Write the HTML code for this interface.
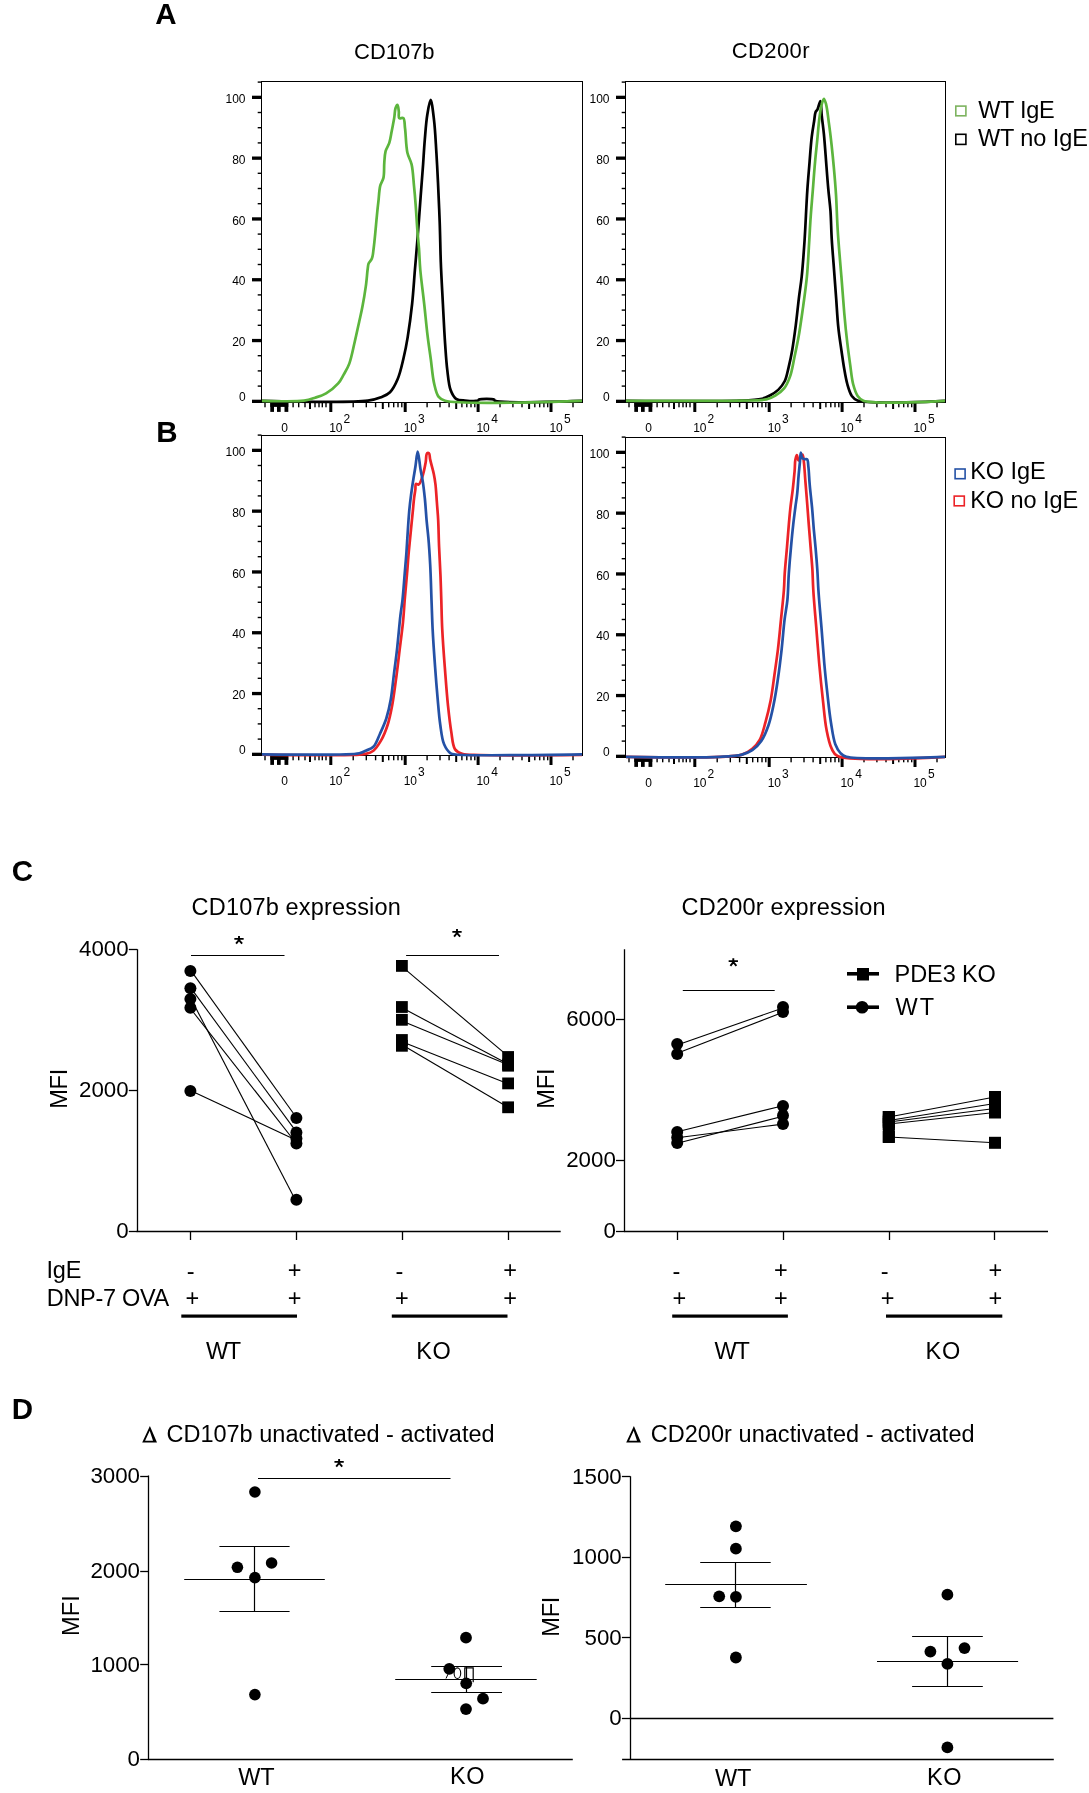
<!DOCTYPE html>
<html><head><meta charset="utf-8"><style>
html,body{margin:0;padding:0;background:#fff;}
svg{display:block;font-family:"Liberation Sans",sans-serif;will-change:transform;}
</style></head><body>
<svg width="1089" height="1793" viewBox="0 0 1089 1793">
<rect width="1089" height="1793" fill="#fff"/>
<rect x="261.5" y="81.5" width="321" height="321" fill="none" stroke="#000" stroke-width="1"/>
<rect x="252" y="399.7" width="9.5" height="3.3" fill="#000"/>
<rect x="257.7" y="385.4" width="3.8" height="1.4" fill="#000"/>
<rect x="257.7" y="370.2" width="3.8" height="1.4" fill="#000"/>
<rect x="257.7" y="355" width="3.8" height="1.4" fill="#000"/>
<rect x="252" y="338.9" width="9.5" height="3.3" fill="#000"/>
<rect x="257.7" y="324.6" width="3.8" height="1.4" fill="#000"/>
<rect x="257.7" y="309.4" width="3.8" height="1.4" fill="#000"/>
<rect x="257.7" y="294.2" width="3.8" height="1.4" fill="#000"/>
<rect x="252" y="278.1" width="9.5" height="3.3" fill="#000"/>
<rect x="257.7" y="263.8" width="3.8" height="1.4" fill="#000"/>
<rect x="257.7" y="248.6" width="3.8" height="1.4" fill="#000"/>
<rect x="257.7" y="233.4" width="3.8" height="1.4" fill="#000"/>
<rect x="252" y="217.3" width="9.5" height="3.3" fill="#000"/>
<rect x="257.7" y="203" width="3.8" height="1.4" fill="#000"/>
<rect x="257.7" y="187.8" width="3.8" height="1.4" fill="#000"/>
<rect x="257.7" y="172.6" width="3.8" height="1.4" fill="#000"/>
<rect x="252" y="156.5" width="9.5" height="3.3" fill="#000"/>
<rect x="257.7" y="142.2" width="3.8" height="1.4" fill="#000"/>
<rect x="257.7" y="127" width="3.8" height="1.4" fill="#000"/>
<rect x="257.7" y="111.8" width="3.8" height="1.4" fill="#000"/>
<rect x="252" y="95.7" width="9.5" height="3.3" fill="#000"/>
<rect x="257.7" y="81.4" width="3.8" height="1.4" fill="#000"/>
<text x="238.9" y="400.9" font-size="12" font-weight="normal">0</text>
<text x="232.2" y="346.2" font-size="12" font-weight="normal">20</text>
<text x="232.2" y="285.4" font-size="12" font-weight="normal">40</text>
<text x="232.2" y="224.6" font-size="12" font-weight="normal">60</text>
<text x="232.2" y="163.8" font-size="12" font-weight="normal">80</text>
<text x="225.5" y="103" font-size="12" font-weight="normal">100</text>
<rect x="264.3" y="402.5" width="1.4" height="4.8" fill="#000"/>
<rect x="270.3" y="402.5" width="18" height="4.4" fill="#000"/>
<rect x="270.3" y="402.5" width="3.7" height="9.4" fill="#000"/>
<rect x="277" y="402.5" width="3.7" height="9.4" fill="#000"/>
<rect x="284.5" y="402.5" width="3.8" height="9.4" fill="#000"/>
<rect x="292.4" y="402.5" width="1.4" height="4.8" fill="#000"/>
<rect x="298" y="402.5" width="1.4" height="4.8" fill="#000"/>
<rect x="304.3" y="402.5" width="1.4" height="4.8" fill="#000"/>
<rect x="309" y="402.5" width="2" height="6.5" fill="#000"/>
<rect x="314.3" y="402.5" width="1.4" height="4.8" fill="#000"/>
<rect x="318.3" y="402.5" width="1.4" height="4.8" fill="#000"/>
<rect x="321.6" y="402.5" width="1.4" height="4.8" fill="#000"/>
<rect x="325.3" y="402.5" width="1.4" height="4.8" fill="#000"/>
<rect x="329.3" y="402.5" width="3" height="9.5" fill="#000"/>
<rect x="352.5" y="402.5" width="1.4" height="4.8" fill="#000"/>
<rect x="365.6" y="402.5" width="1.4" height="4.8" fill="#000"/>
<rect x="374.9" y="402.5" width="1.4" height="4.8" fill="#000"/>
<rect x="381.8" y="402.5" width="2" height="6.5" fill="#000"/>
<rect x="388" y="402.5" width="1.4" height="4.8" fill="#000"/>
<rect x="393" y="402.5" width="1.4" height="4.8" fill="#000"/>
<rect x="397.3" y="402.5" width="1.4" height="4.8" fill="#000"/>
<rect x="401.1" y="402.5" width="1.4" height="4.8" fill="#000"/>
<rect x="403.7" y="402.5" width="3" height="9.5" fill="#000"/>
<rect x="426.4" y="402.5" width="1.4" height="4.8" fill="#000"/>
<rect x="439.3" y="402.5" width="1.4" height="4.8" fill="#000"/>
<rect x="448.4" y="402.5" width="1.4" height="4.8" fill="#000"/>
<rect x="455.2" y="402.5" width="2" height="6.5" fill="#000"/>
<rect x="461.2" y="402.5" width="1.4" height="4.8" fill="#000"/>
<rect x="466.1" y="402.5" width="1.4" height="4.8" fill="#000"/>
<rect x="470.3" y="402.5" width="1.4" height="4.8" fill="#000"/>
<rect x="474.1" y="402.5" width="1.4" height="4.8" fill="#000"/>
<rect x="476.6" y="402.5" width="3" height="9.5" fill="#000"/>
<rect x="499.3" y="402.5" width="1.4" height="4.8" fill="#000"/>
<rect x="512.2" y="402.5" width="1.4" height="4.8" fill="#000"/>
<rect x="521.3" y="402.5" width="1.4" height="4.8" fill="#000"/>
<rect x="528.1" y="402.5" width="2" height="6.5" fill="#000"/>
<rect x="534.1" y="402.5" width="1.4" height="4.8" fill="#000"/>
<rect x="539" y="402.5" width="1.4" height="4.8" fill="#000"/>
<rect x="543.2" y="402.5" width="1.4" height="4.8" fill="#000"/>
<rect x="547" y="402.5" width="1.4" height="4.8" fill="#000"/>
<rect x="549.5" y="402.5" width="3" height="9.5" fill="#000"/>
<rect x="572.3" y="402.5" width="1.4" height="4.8" fill="#000"/>
<text x="281.3" y="432.2" font-size="12" font-weight="normal">0</text>
<text x="329.3" y="432.2" font-size="12" font-weight="normal" textLength="13.2" lengthAdjust="spacing" >10</text>
<text x="343.6" y="423.3" font-size="12" font-weight="normal" >2</text>
<text x="403.7" y="432.2" font-size="12" font-weight="normal" textLength="13.2" lengthAdjust="spacing" >10</text>
<text x="418.1" y="423.3" font-size="12" font-weight="normal" >3</text>
<text x="476.6" y="432.2" font-size="12" font-weight="normal" textLength="13.2" lengthAdjust="spacing" >10</text>
<text x="491.2" y="423.3" font-size="12" font-weight="normal" >4</text>
<text x="549.5" y="432.2" font-size="12" font-weight="normal" textLength="13.2" lengthAdjust="spacing" >10</text>
<text x="563.9" y="423.3" font-size="12" font-weight="normal" >5</text>
<rect x="625.5" y="81.5" width="320" height="321" fill="none" stroke="#000" stroke-width="1"/>
<rect x="616" y="399.7" width="9.5" height="3.3" fill="#000"/>
<rect x="621.7" y="385.4" width="3.8" height="1.4" fill="#000"/>
<rect x="621.7" y="370.2" width="3.8" height="1.4" fill="#000"/>
<rect x="621.7" y="355" width="3.8" height="1.4" fill="#000"/>
<rect x="616" y="338.9" width="9.5" height="3.3" fill="#000"/>
<rect x="621.7" y="324.6" width="3.8" height="1.4" fill="#000"/>
<rect x="621.7" y="309.4" width="3.8" height="1.4" fill="#000"/>
<rect x="621.7" y="294.2" width="3.8" height="1.4" fill="#000"/>
<rect x="616" y="278.1" width="9.5" height="3.3" fill="#000"/>
<rect x="621.7" y="263.8" width="3.8" height="1.4" fill="#000"/>
<rect x="621.7" y="248.6" width="3.8" height="1.4" fill="#000"/>
<rect x="621.7" y="233.4" width="3.8" height="1.4" fill="#000"/>
<rect x="616" y="217.3" width="9.5" height="3.3" fill="#000"/>
<rect x="621.7" y="203" width="3.8" height="1.4" fill="#000"/>
<rect x="621.7" y="187.8" width="3.8" height="1.4" fill="#000"/>
<rect x="621.7" y="172.6" width="3.8" height="1.4" fill="#000"/>
<rect x="616" y="156.5" width="9.5" height="3.3" fill="#000"/>
<rect x="621.7" y="142.2" width="3.8" height="1.4" fill="#000"/>
<rect x="621.7" y="127" width="3.8" height="1.4" fill="#000"/>
<rect x="621.7" y="111.8" width="3.8" height="1.4" fill="#000"/>
<rect x="616" y="95.7" width="9.5" height="3.3" fill="#000"/>
<rect x="621.7" y="81.4" width="3.8" height="1.4" fill="#000"/>
<text x="602.9" y="400.9" font-size="12" font-weight="normal">0</text>
<text x="596.2" y="346.2" font-size="12" font-weight="normal">20</text>
<text x="596.2" y="285.4" font-size="12" font-weight="normal">40</text>
<text x="596.2" y="224.6" font-size="12" font-weight="normal">60</text>
<text x="596.2" y="163.8" font-size="12" font-weight="normal">80</text>
<text x="589.5" y="103" font-size="12" font-weight="normal">100</text>
<rect x="628.3" y="402.5" width="1.4" height="4.8" fill="#000"/>
<rect x="634.3" y="402.5" width="18" height="4.4" fill="#000"/>
<rect x="634.3" y="402.5" width="3.7" height="9.4" fill="#000"/>
<rect x="641" y="402.5" width="3.7" height="9.4" fill="#000"/>
<rect x="648.5" y="402.5" width="3.8" height="9.4" fill="#000"/>
<rect x="656.4" y="402.5" width="1.4" height="4.8" fill="#000"/>
<rect x="662" y="402.5" width="1.4" height="4.8" fill="#000"/>
<rect x="668.3" y="402.5" width="1.4" height="4.8" fill="#000"/>
<rect x="673" y="402.5" width="2" height="6.5" fill="#000"/>
<rect x="678.3" y="402.5" width="1.4" height="4.8" fill="#000"/>
<rect x="682.3" y="402.5" width="1.4" height="4.8" fill="#000"/>
<rect x="685.6" y="402.5" width="1.4" height="4.8" fill="#000"/>
<rect x="689.3" y="402.5" width="1.4" height="4.8" fill="#000"/>
<rect x="693.3" y="402.5" width="3" height="9.5" fill="#000"/>
<rect x="716.5" y="402.5" width="1.4" height="4.8" fill="#000"/>
<rect x="729.6" y="402.5" width="1.4" height="4.8" fill="#000"/>
<rect x="738.9" y="402.5" width="1.4" height="4.8" fill="#000"/>
<rect x="745.8" y="402.5" width="2" height="6.5" fill="#000"/>
<rect x="752" y="402.5" width="1.4" height="4.8" fill="#000"/>
<rect x="757" y="402.5" width="1.4" height="4.8" fill="#000"/>
<rect x="761.3" y="402.5" width="1.4" height="4.8" fill="#000"/>
<rect x="765.1" y="402.5" width="1.4" height="4.8" fill="#000"/>
<rect x="767.7" y="402.5" width="3" height="9.5" fill="#000"/>
<rect x="790.4" y="402.5" width="1.4" height="4.8" fill="#000"/>
<rect x="803.3" y="402.5" width="1.4" height="4.8" fill="#000"/>
<rect x="812.4" y="402.5" width="1.4" height="4.8" fill="#000"/>
<rect x="819.2" y="402.5" width="2" height="6.5" fill="#000"/>
<rect x="825.2" y="402.5" width="1.4" height="4.8" fill="#000"/>
<rect x="830.1" y="402.5" width="1.4" height="4.8" fill="#000"/>
<rect x="834.3" y="402.5" width="1.4" height="4.8" fill="#000"/>
<rect x="838.1" y="402.5" width="1.4" height="4.8" fill="#000"/>
<rect x="840.6" y="402.5" width="3" height="9.5" fill="#000"/>
<rect x="863.3" y="402.5" width="1.4" height="4.8" fill="#000"/>
<rect x="876.2" y="402.5" width="1.4" height="4.8" fill="#000"/>
<rect x="885.3" y="402.5" width="1.4" height="4.8" fill="#000"/>
<rect x="892.1" y="402.5" width="2" height="6.5" fill="#000"/>
<rect x="898.1" y="402.5" width="1.4" height="4.8" fill="#000"/>
<rect x="903" y="402.5" width="1.4" height="4.8" fill="#000"/>
<rect x="907.2" y="402.5" width="1.4" height="4.8" fill="#000"/>
<rect x="911" y="402.5" width="1.4" height="4.8" fill="#000"/>
<rect x="913.5" y="402.5" width="3" height="9.5" fill="#000"/>
<rect x="936.3" y="402.5" width="1.4" height="4.8" fill="#000"/>
<text x="645.3" y="432.2" font-size="12" font-weight="normal">0</text>
<text x="693.3" y="432.2" font-size="12" font-weight="normal" textLength="13.2" lengthAdjust="spacing" >10</text>
<text x="707.6" y="423.3" font-size="12" font-weight="normal" >2</text>
<text x="767.7" y="432.2" font-size="12" font-weight="normal" textLength="13.2" lengthAdjust="spacing" >10</text>
<text x="782.1" y="423.3" font-size="12" font-weight="normal" >3</text>
<text x="840.6" y="432.2" font-size="12" font-weight="normal" textLength="13.2" lengthAdjust="spacing" >10</text>
<text x="855.2" y="423.3" font-size="12" font-weight="normal" >4</text>
<text x="913.5" y="432.2" font-size="12" font-weight="normal" textLength="13.2" lengthAdjust="spacing" >10</text>
<text x="927.9" y="423.3" font-size="12" font-weight="normal" >5</text>
<rect x="261.5" y="435.5" width="321" height="320" fill="none" stroke="#000" stroke-width="1"/>
<rect x="252" y="752.7" width="9.5" height="3.3" fill="#000"/>
<rect x="257.7" y="738.4" width="3.8" height="1.4" fill="#000"/>
<rect x="257.7" y="723.2" width="3.8" height="1.4" fill="#000"/>
<rect x="257.7" y="708" width="3.8" height="1.4" fill="#000"/>
<rect x="252" y="691.9" width="9.5" height="3.3" fill="#000"/>
<rect x="257.7" y="677.6" width="3.8" height="1.4" fill="#000"/>
<rect x="257.7" y="662.4" width="3.8" height="1.4" fill="#000"/>
<rect x="257.7" y="647.2" width="3.8" height="1.4" fill="#000"/>
<rect x="252" y="631.1" width="9.5" height="3.3" fill="#000"/>
<rect x="257.7" y="616.8" width="3.8" height="1.4" fill="#000"/>
<rect x="257.7" y="601.6" width="3.8" height="1.4" fill="#000"/>
<rect x="257.7" y="586.4" width="3.8" height="1.4" fill="#000"/>
<rect x="252" y="570.3" width="9.5" height="3.3" fill="#000"/>
<rect x="257.7" y="556" width="3.8" height="1.4" fill="#000"/>
<rect x="257.7" y="540.8" width="3.8" height="1.4" fill="#000"/>
<rect x="257.7" y="525.6" width="3.8" height="1.4" fill="#000"/>
<rect x="252" y="509.5" width="9.5" height="3.3" fill="#000"/>
<rect x="257.7" y="495.2" width="3.8" height="1.4" fill="#000"/>
<rect x="257.7" y="480" width="3.8" height="1.4" fill="#000"/>
<rect x="257.7" y="464.8" width="3.8" height="1.4" fill="#000"/>
<rect x="252" y="448.7" width="9.5" height="3.3" fill="#000"/>
<rect x="257.7" y="434.4" width="3.8" height="1.4" fill="#000"/>
<text x="238.9" y="753.9" font-size="12" font-weight="normal">0</text>
<text x="232.2" y="699.2" font-size="12" font-weight="normal">20</text>
<text x="232.2" y="638.4" font-size="12" font-weight="normal">40</text>
<text x="232.2" y="577.6" font-size="12" font-weight="normal">60</text>
<text x="232.2" y="516.8" font-size="12" font-weight="normal">80</text>
<text x="225.5" y="456" font-size="12" font-weight="normal">100</text>
<rect x="264.3" y="755.5" width="1.4" height="4.8" fill="#000"/>
<rect x="270.3" y="755.5" width="18" height="4.4" fill="#000"/>
<rect x="270.3" y="755.5" width="3.7" height="9.4" fill="#000"/>
<rect x="277" y="755.5" width="3.7" height="9.4" fill="#000"/>
<rect x="284.5" y="755.5" width="3.8" height="9.4" fill="#000"/>
<rect x="292.4" y="755.5" width="1.4" height="4.8" fill="#000"/>
<rect x="298" y="755.5" width="1.4" height="4.8" fill="#000"/>
<rect x="304.3" y="755.5" width="1.4" height="4.8" fill="#000"/>
<rect x="309" y="755.5" width="2" height="6.5" fill="#000"/>
<rect x="314.3" y="755.5" width="1.4" height="4.8" fill="#000"/>
<rect x="318.3" y="755.5" width="1.4" height="4.8" fill="#000"/>
<rect x="321.6" y="755.5" width="1.4" height="4.8" fill="#000"/>
<rect x="325.3" y="755.5" width="1.4" height="4.8" fill="#000"/>
<rect x="329.3" y="755.5" width="3" height="9.5" fill="#000"/>
<rect x="352.5" y="755.5" width="1.4" height="4.8" fill="#000"/>
<rect x="365.6" y="755.5" width="1.4" height="4.8" fill="#000"/>
<rect x="374.9" y="755.5" width="1.4" height="4.8" fill="#000"/>
<rect x="381.8" y="755.5" width="2" height="6.5" fill="#000"/>
<rect x="388" y="755.5" width="1.4" height="4.8" fill="#000"/>
<rect x="393" y="755.5" width="1.4" height="4.8" fill="#000"/>
<rect x="397.3" y="755.5" width="1.4" height="4.8" fill="#000"/>
<rect x="401.1" y="755.5" width="1.4" height="4.8" fill="#000"/>
<rect x="403.7" y="755.5" width="3" height="9.5" fill="#000"/>
<rect x="426.4" y="755.5" width="1.4" height="4.8" fill="#000"/>
<rect x="439.3" y="755.5" width="1.4" height="4.8" fill="#000"/>
<rect x="448.4" y="755.5" width="1.4" height="4.8" fill="#000"/>
<rect x="455.2" y="755.5" width="2" height="6.5" fill="#000"/>
<rect x="461.2" y="755.5" width="1.4" height="4.8" fill="#000"/>
<rect x="466.1" y="755.5" width="1.4" height="4.8" fill="#000"/>
<rect x="470.3" y="755.5" width="1.4" height="4.8" fill="#000"/>
<rect x="474.1" y="755.5" width="1.4" height="4.8" fill="#000"/>
<rect x="476.6" y="755.5" width="3" height="9.5" fill="#000"/>
<rect x="499.3" y="755.5" width="1.4" height="4.8" fill="#000"/>
<rect x="512.2" y="755.5" width="1.4" height="4.8" fill="#000"/>
<rect x="521.3" y="755.5" width="1.4" height="4.8" fill="#000"/>
<rect x="528.1" y="755.5" width="2" height="6.5" fill="#000"/>
<rect x="534.1" y="755.5" width="1.4" height="4.8" fill="#000"/>
<rect x="539" y="755.5" width="1.4" height="4.8" fill="#000"/>
<rect x="543.2" y="755.5" width="1.4" height="4.8" fill="#000"/>
<rect x="547" y="755.5" width="1.4" height="4.8" fill="#000"/>
<rect x="549.5" y="755.5" width="3" height="9.5" fill="#000"/>
<rect x="572.3" y="755.5" width="1.4" height="4.8" fill="#000"/>
<text x="281.3" y="785.2" font-size="12" font-weight="normal">0</text>
<text x="329.3" y="785.2" font-size="12" font-weight="normal" textLength="13.2" lengthAdjust="spacing" >10</text>
<text x="343.6" y="776.3" font-size="12" font-weight="normal" >2</text>
<text x="403.7" y="785.2" font-size="12" font-weight="normal" textLength="13.2" lengthAdjust="spacing" >10</text>
<text x="418.1" y="776.3" font-size="12" font-weight="normal" >3</text>
<text x="476.6" y="785.2" font-size="12" font-weight="normal" textLength="13.2" lengthAdjust="spacing" >10</text>
<text x="491.2" y="776.3" font-size="12" font-weight="normal" >4</text>
<text x="549.5" y="785.2" font-size="12" font-weight="normal" textLength="13.2" lengthAdjust="spacing" >10</text>
<text x="563.9" y="776.3" font-size="12" font-weight="normal" >5</text>
<rect x="625.5" y="437.5" width="320" height="320" fill="none" stroke="#000" stroke-width="1"/>
<rect x="616" y="754.7" width="9.5" height="3.3" fill="#000"/>
<rect x="621.7" y="740.4" width="3.8" height="1.4" fill="#000"/>
<rect x="621.7" y="725.2" width="3.8" height="1.4" fill="#000"/>
<rect x="621.7" y="710" width="3.8" height="1.4" fill="#000"/>
<rect x="616" y="693.9" width="9.5" height="3.3" fill="#000"/>
<rect x="621.7" y="679.6" width="3.8" height="1.4" fill="#000"/>
<rect x="621.7" y="664.4" width="3.8" height="1.4" fill="#000"/>
<rect x="621.7" y="649.2" width="3.8" height="1.4" fill="#000"/>
<rect x="616" y="633.1" width="9.5" height="3.3" fill="#000"/>
<rect x="621.7" y="618.8" width="3.8" height="1.4" fill="#000"/>
<rect x="621.7" y="603.6" width="3.8" height="1.4" fill="#000"/>
<rect x="621.7" y="588.4" width="3.8" height="1.4" fill="#000"/>
<rect x="616" y="572.3" width="9.5" height="3.3" fill="#000"/>
<rect x="621.7" y="558" width="3.8" height="1.4" fill="#000"/>
<rect x="621.7" y="542.8" width="3.8" height="1.4" fill="#000"/>
<rect x="621.7" y="527.6" width="3.8" height="1.4" fill="#000"/>
<rect x="616" y="511.5" width="9.5" height="3.3" fill="#000"/>
<rect x="621.7" y="497.2" width="3.8" height="1.4" fill="#000"/>
<rect x="621.7" y="482" width="3.8" height="1.4" fill="#000"/>
<rect x="621.7" y="466.8" width="3.8" height="1.4" fill="#000"/>
<rect x="616" y="450.7" width="9.5" height="3.3" fill="#000"/>
<rect x="621.7" y="436.4" width="3.8" height="1.4" fill="#000"/>
<text x="602.9" y="755.9" font-size="12" font-weight="normal">0</text>
<text x="596.2" y="701.2" font-size="12" font-weight="normal">20</text>
<text x="596.2" y="640.4" font-size="12" font-weight="normal">40</text>
<text x="596.2" y="579.6" font-size="12" font-weight="normal">60</text>
<text x="596.2" y="518.8" font-size="12" font-weight="normal">80</text>
<text x="589.5" y="458" font-size="12" font-weight="normal">100</text>
<rect x="628.3" y="757.5" width="1.4" height="4.8" fill="#000"/>
<rect x="634.3" y="757.5" width="18" height="4.4" fill="#000"/>
<rect x="634.3" y="757.5" width="3.7" height="9.4" fill="#000"/>
<rect x="641" y="757.5" width="3.7" height="9.4" fill="#000"/>
<rect x="648.5" y="757.5" width="3.8" height="9.4" fill="#000"/>
<rect x="656.4" y="757.5" width="1.4" height="4.8" fill="#000"/>
<rect x="662" y="757.5" width="1.4" height="4.8" fill="#000"/>
<rect x="668.3" y="757.5" width="1.4" height="4.8" fill="#000"/>
<rect x="673" y="757.5" width="2" height="6.5" fill="#000"/>
<rect x="678.3" y="757.5" width="1.4" height="4.8" fill="#000"/>
<rect x="682.3" y="757.5" width="1.4" height="4.8" fill="#000"/>
<rect x="685.6" y="757.5" width="1.4" height="4.8" fill="#000"/>
<rect x="689.3" y="757.5" width="1.4" height="4.8" fill="#000"/>
<rect x="693.3" y="757.5" width="3" height="9.5" fill="#000"/>
<rect x="716.5" y="757.5" width="1.4" height="4.8" fill="#000"/>
<rect x="729.6" y="757.5" width="1.4" height="4.8" fill="#000"/>
<rect x="738.9" y="757.5" width="1.4" height="4.8" fill="#000"/>
<rect x="745.8" y="757.5" width="2" height="6.5" fill="#000"/>
<rect x="752" y="757.5" width="1.4" height="4.8" fill="#000"/>
<rect x="757" y="757.5" width="1.4" height="4.8" fill="#000"/>
<rect x="761.3" y="757.5" width="1.4" height="4.8" fill="#000"/>
<rect x="765.1" y="757.5" width="1.4" height="4.8" fill="#000"/>
<rect x="767.7" y="757.5" width="3" height="9.5" fill="#000"/>
<rect x="790.4" y="757.5" width="1.4" height="4.8" fill="#000"/>
<rect x="803.3" y="757.5" width="1.4" height="4.8" fill="#000"/>
<rect x="812.4" y="757.5" width="1.4" height="4.8" fill="#000"/>
<rect x="819.2" y="757.5" width="2" height="6.5" fill="#000"/>
<rect x="825.2" y="757.5" width="1.4" height="4.8" fill="#000"/>
<rect x="830.1" y="757.5" width="1.4" height="4.8" fill="#000"/>
<rect x="834.3" y="757.5" width="1.4" height="4.8" fill="#000"/>
<rect x="838.1" y="757.5" width="1.4" height="4.8" fill="#000"/>
<rect x="840.6" y="757.5" width="3" height="9.5" fill="#000"/>
<rect x="863.3" y="757.5" width="1.4" height="4.8" fill="#000"/>
<rect x="876.2" y="757.5" width="1.4" height="4.8" fill="#000"/>
<rect x="885.3" y="757.5" width="1.4" height="4.8" fill="#000"/>
<rect x="892.1" y="757.5" width="2" height="6.5" fill="#000"/>
<rect x="898.1" y="757.5" width="1.4" height="4.8" fill="#000"/>
<rect x="903" y="757.5" width="1.4" height="4.8" fill="#000"/>
<rect x="907.2" y="757.5" width="1.4" height="4.8" fill="#000"/>
<rect x="911" y="757.5" width="1.4" height="4.8" fill="#000"/>
<rect x="913.5" y="757.5" width="3" height="9.5" fill="#000"/>
<rect x="936.3" y="757.5" width="1.4" height="4.8" fill="#000"/>
<text x="645.3" y="787.2" font-size="12" font-weight="normal">0</text>
<text x="693.3" y="787.2" font-size="12" font-weight="normal" textLength="13.2" lengthAdjust="spacing" >10</text>
<text x="707.6" y="778.3" font-size="12" font-weight="normal" >2</text>
<text x="767.7" y="787.2" font-size="12" font-weight="normal" textLength="13.2" lengthAdjust="spacing" >10</text>
<text x="782.1" y="778.3" font-size="12" font-weight="normal" >3</text>
<text x="840.6" y="787.2" font-size="12" font-weight="normal" textLength="13.2" lengthAdjust="spacing" >10</text>
<text x="855.2" y="778.3" font-size="12" font-weight="normal" >4</text>
<text x="913.5" y="787.2" font-size="12" font-weight="normal" textLength="13.2" lengthAdjust="spacing" >10</text>
<text x="927.9" y="778.3" font-size="12" font-weight="normal" >5</text>
<path d="M262 400.8 C262 400.8 349.7 402.9 368 400.6 C374.5 399.8 377.2 398.8 381 397.3 C384.4 395.9 387.4 394.8 390 392.2 C393.2 389.1 395.6 384 397.7 379 C400.2 373.2 401.7 366 403.3 359.2 C405 352.1 406.4 345.2 407.7 337.1 C409.3 327.2 410.9 315.1 412.1 304 C413.3 292.8 414 281 414.9 270 C415.8 259.7 416.5 251 417.4 240 C418.5 226.7 419.7 209.3 420.7 195.8 C421.6 184.4 422.4 174.3 423.1 164.4 C423.7 155.6 424.1 147.9 424.8 139.6 C425.5 131.3 426.1 122 427.3 114.8 C428.2 109.2 429.6 99.9 430.6 99.9 C431.8 99.9 433.1 112.3 434 119.8 C435.2 129.4 435.7 142.1 436.4 152.8 C437 163 437.5 172 438 182.6 C438.6 194.9 439.2 209 439.7 222.2 C440.2 235.4 440.3 248.6 440.8 262 C441.3 275.8 442.2 290.2 442.9 304 C443.6 317.4 444.3 331.8 445.1 343.7 C445.8 353.4 446.3 362 447.3 370.2 C448.2 377.3 448.7 384.9 450.6 390 C452 393.7 453.6 397.1 456.1 398.8 C458.5 400.4 461.7 400.3 465 400.6 C468.9 401 476.2 401.4 478 400.6 C478.6 400.3 478.4 399.8 479 399.5 C481 398.6 492 398.5 494 399.5 C494.7 399.8 494.2 400.4 495 400.8 C500.6 403.6 582 400.8 582 400.8" fill="none" stroke="#000" stroke-width="2.7" stroke-linejoin="round"/>
<path d="M262 400.8 C262 400.8 294.7 401.8 304.1 400.6 C309 400 311.5 398.9 315.1 397.7 C318.8 396.5 322.5 395.4 326.1 393.3 C330.2 390.9 335.1 386.9 338.2 383.4 C340.7 380.6 341.9 377.7 343.7 374.6 C345.6 371.2 347.7 368 349.3 363.6 C351.5 357.6 353.1 348.7 354.8 341.5 C356.4 334.7 357.8 327.9 359.2 321.7 C360.4 316.2 361.5 311.8 362.5 306.3 C363.7 300.1 364.9 292.9 365.8 286.4 C366.7 280.2 367.2 272 367.8 268 C368.1 266 368 265.1 368.6 263.6 C369.3 261.9 371.1 260.7 371.9 258.6 C373 255.9 373.1 252.3 373.6 248.7 C374.2 244.2 374.7 239 375.2 233.8 C375.8 228 376.3 221.4 376.9 215.6 C377.4 210.4 377.9 205.7 378.5 200.7 C379 195.8 379.2 190.1 380.2 185.9 C381 182.7 382.8 180.8 383.5 177.6 C384.4 173.4 383.9 167.3 384.3 162.7 C384.6 158.6 384.7 154.7 385.6 151.2 C386.4 148.1 388.3 146 389.3 142.9 C390.4 139.4 390.9 135.3 391.7 131.3 C392.5 127 393.5 122.2 394.2 118.1 C394.8 114.6 394.7 110.6 395.5 108.2 C396 106.7 397 104.8 397.5 104.9 C398.2 105 398.5 109.3 398.8 111.5 C399.1 113.7 398.2 117.1 399.2 118.1 C400 118.9 402.3 117.3 403.3 118.1 C404.8 119.4 404.5 123.9 405 128 C405.9 134.4 405.9 146.2 407.4 152.8 C408.5 157.5 410.5 159.9 411.6 164.4 C413 170.4 413.3 178.9 414 185.9 C414.7 192.6 415.2 198.7 415.7 205.7 C416.3 213.5 416.8 222.9 417.4 230.5 C417.9 237 418.5 242.4 419 248.7 C419.5 255.5 419.6 262.1 420.3 270 C421.2 280 423 292.9 424.2 304 C425.4 314.6 426.3 325.3 427.5 335 C428.5 343.6 429.7 351.1 430.8 359.2 C431.9 367.3 432.5 376.6 434.1 383.4 C435.3 388.5 436.2 393.6 438.5 396.6 C440.2 398.8 441.2 399.7 445.1 400.8 C461.3 405.5 582 400.8 582 400.8" fill="none" stroke="#5cb53d" stroke-width="2.7" stroke-linejoin="round"/>
<path d="M626 400.8 C626 400.8 716.8 401.6 740 400.6 C750.2 400.2 756.7 400 762 398.7 C765.2 397.9 766.9 397 769.4 395.7 C772.3 394.2 775.7 392.3 778.2 389.9 C780.8 387.4 783.1 384.4 784.8 381 C786.7 377.2 787.3 372.5 788.5 367.8 C789.8 362.4 791.1 356.6 792.2 350.2 C793.5 342.6 794.7 333.7 795.8 325.2 C796.9 316.5 797.8 307.2 798.8 298.8 C799.7 291.1 800.8 285 801.7 276.7 C802.8 266 803.7 253.2 804.6 240 C805.6 224.4 806.4 203.6 807.4 189.2 C808.1 178.6 808.9 170.6 809.6 161.6 C810.3 153 810.9 143.5 811.8 136.3 C812.5 130.8 813.3 126.3 814 122 C814.6 118.4 814.7 114.1 815.6 112 C816.1 110.9 816.7 110.8 817.3 109.8 C818.3 107.9 819.7 100.9 820.4 101 C821.3 101.1 821.2 110.2 821.7 115.3 C822.3 121.1 823.2 127.2 823.9 134.1 C824.7 142.4 825.4 152.4 826.1 161.6 C826.8 170.8 827.5 180.5 828.3 189.2 C829 197 829.9 203.4 830.5 211.2 C831.1 220.1 831.2 230.4 831.8 240 C832.4 249.8 833.3 259.6 834 269.4 C834.7 279.2 835.5 289 836.2 298.8 C836.9 308.6 837.4 319.1 838.4 328.2 C839.2 336.1 840.4 343.1 841.4 350.2 C842.4 356.8 843.2 363.4 844.3 369.3 C845.2 374.5 846 379.4 847.3 384 C848.5 388.2 849.7 392.8 851.7 395.7 C853.3 397.9 854.1 399.3 857.5 400.6 C869.2 404.9 945 400.8 945 400.8" fill="none" stroke="#000" stroke-width="2.7" stroke-linejoin="round"/>
<path d="M626 400.8 C626 400.8 715.3 401.2 740 400.6 C751.9 400.3 760 400.8 766.4 399.4 C770.3 398.5 772.5 397.4 775.3 395.7 C778.4 393.8 781.7 391.4 784.1 388.4 C786.7 385.2 788.4 381.1 790 376.6 C792 371.1 793 364.1 794.4 357.5 C795.9 350.4 797.4 343.4 798.8 335.5 C800.4 326.4 801.8 315.9 803.2 306.1 C804.5 296.3 805.9 287.1 806.9 276.7 C808 265.2 808.6 250.9 809.3 240 C809.8 231.4 810.1 224.8 810.7 216.7 C811.3 207.9 812.2 198.4 812.9 189.2 C813.6 180 814.3 170.3 815.1 161.6 C815.8 153.8 816.6 146.9 817.3 139.6 C818 132.2 818.6 123.9 819.5 117.5 C820.2 112.5 820.7 107.7 821.7 104.3 C822.3 102 823.2 98.8 823.9 98.8 C824.6 98.8 825.4 101.9 826.1 104.3 C827.3 108.7 828 116.6 828.9 123.1 C829.9 130.1 830.8 137.8 831.6 145.1 C832.4 152.4 833.1 159.3 833.8 167.1 C834.6 175.8 835.4 184.9 836 194.7 C836.7 205.7 836.9 217.4 837.7 230 C838.6 244.5 840.2 262.1 841.4 276.7 C842.4 289.7 843.3 301.9 844.3 313.5 C845.2 323.9 846.2 333.8 847.3 342.9 C848.2 350.8 849.2 357.8 850.2 364.9 C851.1 371.5 851.7 378.5 853.1 384 C854.3 388.4 855.5 392.8 857.5 395.7 C859.1 398 859.9 399.5 863.4 400.8 C874.7 405 945 400.8 945 400.8" fill="none" stroke="#5cb53d" stroke-width="2.7" stroke-linejoin="round"/>
<path d="M262 754.6 C262 754.6 336.4 755.7 352.9 755 C359.1 754.7 362 754.8 365.7 753.9 C368.7 753.2 371.1 752.5 373.4 750.7 C376.3 748.4 378.8 744.3 381.1 740.4 C383.7 735.9 385.8 730.5 387.6 725 C389.5 719 390.8 712.6 392.1 705.7 C393.6 697.8 394.7 688.6 395.9 680 C397.1 671.4 398 663.4 399.1 654.3 C400.3 644.2 402 631.8 403 622.1 C403.8 614.1 404.1 607.7 404.7 600 C405.4 591.7 406.3 582.3 407 573.9 C407.7 566.2 408.1 559 408.8 551.6 C409.5 544.2 410.3 536.3 411 529.3 C411.6 523 412.3 516.9 412.8 511.4 C413.3 506.6 413.6 502 414.1 498 C414.5 494.7 415.1 491.7 415.4 489.1 C415.6 487.1 415.1 484.3 415.9 483.8 C416.5 483.4 417.8 485 418.6 484.6 C420 484 421.1 480.4 422.1 477.5 C423.6 473.5 424.9 466.7 425.7 462.3 C426.3 459 425.9 454.4 427 453.4 C427.5 453 428.5 453 429 453.4 C429.9 454.1 429.6 457.1 430.2 459.6 C431 463.4 432.9 469.5 433.8 473.9 C434.6 477.7 435 480.6 435.5 484.6 C436.1 489.8 436.4 496.5 436.9 502.5 C437.3 508.5 437.9 513.8 438.2 520.4 C438.6 528.4 438.7 538.2 439.1 547.1 C439.5 556 440 565 440.4 573.9 C440.8 582.7 441 591.1 441.3 600 C441.6 609.3 441.7 618.4 442.2 628.6 C442.8 640.5 443.8 654.3 444.8 667.1 C445.8 680 446.8 694.1 448 705.7 C449 715.1 449.9 723.6 451.2 731.4 C452.3 738 452.5 745.7 455.1 749.4 C456.8 751.9 459.1 752.9 462.1 753.9 C466.6 755.4 471.6 754.7 480 755 C500.1 755.6 582 755 582 755" fill="none" stroke="#ec2327" stroke-width="2.7" stroke-linejoin="round"/>
<path d="M262 754.3 C262 754.3 322.7 755 340 754.5 C348.6 754.2 354.7 754.4 359.3 753.3 C362.1 752.7 363.5 751.7 365.7 750.7 C368.2 749.6 371.2 749 373.4 746.8 C376.2 744 377.8 738.5 379.9 734 C382.1 729.1 384.5 724 386.3 718.5 C388.2 712.5 389.6 706.2 390.8 699.3 C392.2 691.4 392.9 682.2 394 673.6 C395.1 665 396.2 656.9 397.2 647.8 C398.3 637.7 399.4 624.5 400.4 615.7 C401.1 609.5 401.9 605.9 402.5 600 C403.3 592.4 404 582.3 404.7 573.9 C405.3 566.2 406 559 406.5 551.6 C407 544.2 407.4 536.3 407.9 529.3 C408.3 523 408.7 517.2 409.2 511.4 C409.7 505.9 410.3 500.7 411 495.4 C411.7 490.3 412.4 485.1 413.2 480.2 C413.9 475.6 414.7 471.4 415.4 466.8 C416.2 461.9 416.9 451.6 417.7 451.6 C418.6 451.6 419.5 463.2 420.4 468.6 C421.2 473.6 422.3 478.1 423 482.9 C423.7 487.9 424.2 492.5 424.8 498 C425.5 504.7 426 513.4 426.6 520.4 C427.2 526.7 427.8 531.7 428.4 538.2 C429.1 546.2 429.7 555.5 430.2 565 C430.8 575.9 431.1 588.9 431.5 600 C431.9 610 432.1 618.4 432.6 628.6 C433.2 640.5 434.2 654.8 435.1 667.1 C435.9 678.3 436.8 689.2 437.7 699.3 C438.5 708.4 439.1 717.1 440.3 725 C441.3 731.9 441.9 739.3 444.1 744.3 C445.7 748.1 448.3 751.7 450.6 753.3 C452.2 754.4 452.8 754.2 455.7 754.5 C469.8 756.1 582 754.3 582 754.3" fill="none" stroke="#2451a6" stroke-width="2.7" stroke-linejoin="round"/>
<path d="M626 756.8 C626 756.8 699.6 757.8 720 756.8 C729.9 756.3 736.2 756.5 742 754.6 C746.3 753.2 749.3 751.2 752.3 748.7 C755.2 746.3 757.7 743.6 759.7 739.9 C762.3 735.2 763.7 728.5 765.5 722.2 C767.4 715.3 769.2 707.8 770.7 700.2 C772.2 692.2 773.2 683.7 774.4 675.2 C775.6 666.5 776.9 657.8 778 648.8 C779.1 639.3 780 629.2 781 619.4 C782 609.6 783.3 598.3 783.9 590 C784.4 583.8 784.3 579.9 784.7 573.9 C785.2 566.1 786.3 555.6 787 547.1 C787.6 539.3 788.2 531.8 788.8 524.8 C789.4 518.5 789.8 512.9 790.5 507 C791.2 501 792.1 495.1 792.8 489.1 C793.5 483.2 794.1 476.6 794.6 471.3 C795 467 794.8 462.5 795.4 459.6 C795.8 457.8 796.3 455.2 796.8 455.2 C797.4 455.2 797.8 460.3 798.6 460.5 C799.2 460.6 800.1 458.8 800.8 457.9 C801.5 456.9 802.1 454.6 802.6 454.7 C803.3 454.8 803.5 459.2 803.9 462.3 C804.5 467 804.8 473.9 805.3 480.2 C805.9 487.2 806.5 495.1 807.1 502.5 C807.7 509.9 808.2 517.4 808.8 524.8 C809.4 532.2 810 539.7 810.6 547.1 C811.2 554.6 811.9 562.2 812.4 569.5 C812.8 576.5 812.8 582.2 813.3 590 C813.9 600.5 815.2 614.5 816.2 626.7 C817.2 639 818.1 651.2 819.2 663.5 C820.3 675.7 821.6 688.7 822.9 700.2 C824.1 710.5 824.8 720.9 826.5 729.6 C827.9 736.7 829.3 744 831.7 748.7 C833.3 751.9 833.6 754.1 837.5 756 C850.7 762.4 945 756.8 945 756.8" fill="none" stroke="#ec2327" stroke-width="2.7" stroke-linejoin="round"/>
<path d="M626 756.8 C626 756.8 699.6 757.8 720 756.8 C729.9 756.3 736.1 756.1 742 754.6 C746.2 753.5 749.2 752.3 752.3 750.2 C755.6 748 758.6 745 761.1 741.3 C764.1 736.9 766.5 731 768.5 725.2 C770.7 718.9 772.1 711.9 773.6 704.6 C775.3 696.4 776.7 687.3 778 678.2 C779.4 668.7 780.6 658.6 781.7 648.8 C782.8 639 783.5 628.2 784.6 619.4 C785.5 612.3 786.7 607 787.4 600 C788.2 592 788.2 582.7 788.8 573.9 C789.4 565 790.2 555.6 791 547.1 C791.7 539.3 792.4 531.8 793.2 524.8 C793.9 518.5 794.7 512.5 795.4 507 C796 502.2 796.7 498.4 797.2 493.6 C797.8 488.1 798.1 481.2 798.6 475.7 C799 470.9 799.5 466.4 799.9 462.3 C800.2 458.8 800.3 452.5 800.8 452.5 C801.1 452.5 801.2 456.8 802.1 457.9 C802.8 458.7 803.9 459 804.8 459.2 C805.6 459.4 806.5 458.7 807.1 459.2 C808.2 460.1 808 463.7 808.4 466.8 C809 471.5 809.1 478.3 809.7 484.6 C810.3 491.6 811.3 499.5 812 507 C812.7 514.4 813.2 522.3 813.8 529.3 C814.4 535.6 814.9 540.8 815.5 547.1 C816.1 554.1 816.8 562.2 817.3 569.5 C817.8 576.5 817.9 582.2 818.4 590 C819.1 600.5 820.4 614.5 821.4 626.7 C822.4 639 823.3 651.9 824.3 663.5 C825.2 673.9 826.2 683.1 827.3 692.9 C828.4 702.7 829.4 713.1 830.9 722.2 C832.2 730.1 833.2 738.7 835.3 744.3 C836.7 748 838.4 751 840.5 753.1 C842.2 754.9 843 755.8 846.4 756.8 C859.1 760.5 945 756.8 945 756.8" fill="none" stroke="#2451a6" stroke-width="2.7" stroke-linejoin="round"/>
<text x="155.3" y="24.2" font-size="29.5" font-weight="bold" >A</text>
<text x="156.2" y="442" font-size="29.5" font-weight="bold" >B</text>
<text x="11.7" y="881.2" font-size="29.5" font-weight="bold" >C</text>
<text x="11.8" y="1418.7" font-size="29.5" font-weight="bold" >D</text>
<text x="354.1" y="58.7" font-size="22" font-weight="normal" textLength="80.5" lengthAdjust="spacing" >CD107b</text>
<text x="731.8" y="58.3" font-size="22" font-weight="normal" textLength="77.7" lengthAdjust="spacing" >CD200r</text>
<rect x="955.8" y="106.1" width="10.1" height="9.7" fill="none" stroke="#7db35f" stroke-width="1.6"/>
<text x="978.2" y="118" font-size="23.5" font-weight="normal" textLength="76.4" lengthAdjust="spacing" >WT IgE</text>
<rect x="955.8" y="134.3" width="10.1" height="10.1" fill="none" stroke="#000" stroke-width="1.6"/>
<text x="977.9" y="146" font-size="23.5" font-weight="normal" textLength="110.1" lengthAdjust="spacing" >WT no IgE</text>
<rect x="955.1" y="469" width="10" height="9.7" fill="none" stroke="#2451a6" stroke-width="1.6"/>
<text x="970.2" y="479.1" font-size="23.5" font-weight="normal" textLength="75.6" lengthAdjust="spacing" >KO IgE</text>
<rect x="954.2" y="496.1" width="10.1" height="9.7" fill="none" stroke="#ec2327" stroke-width="1.6"/>
<text x="970.2" y="507.9" font-size="23.5" font-weight="normal" textLength="108" lengthAdjust="spacing" >KO no IgE</text>
<line x1="137.5" y1="949.2" x2="137.5" y2="1231.6" stroke="#000" stroke-width="1.3"/>
<line x1="128.8" y1="949.5" x2="137.3" y2="949.5" stroke="#000" stroke-width="1.3"/>
<text x="79" y="956.1" font-size="22.3" font-weight="normal">4000</text>
<line x1="128.8" y1="1090.5" x2="137.3" y2="1090.5" stroke="#000" stroke-width="1.3"/>
<text x="79" y="1096.9" font-size="22.3" font-weight="normal">2000</text>
<line x1="128.8" y1="1231.5" x2="137.3" y2="1231.5" stroke="#000" stroke-width="1.3"/>
<text x="116.2" y="1238" font-size="22.3" font-weight="normal">0</text>
<line x1="136.6" y1="1231.5" x2="560.7" y2="1231.5" stroke="#000" stroke-width="1.3"/>
<line x1="190.5" y1="1231.2" x2="190.5" y2="1240" stroke="#000" stroke-width="1.3"/>
<line x1="296.5" y1="1231.2" x2="296.5" y2="1240" stroke="#000" stroke-width="1.3"/>
<line x1="402.5" y1="1231.2" x2="402.5" y2="1240" stroke="#000" stroke-width="1.3"/>
<line x1="508.5" y1="1231.2" x2="508.5" y2="1240" stroke="#000" stroke-width="1.3"/>
<text x="191.6" y="915.3" font-size="23.5" font-weight="normal" textLength="209.2" lengthAdjust="spacing" >CD107b expression</text>
<text x="0" y="0" font-size="23.5" textLength="39.9" lengthAdjust="spacing" transform="translate(67.1 1108.7) rotate(-90)">MFI</text>
<line x1="191" y1="955.5" x2="284.5" y2="955.5" stroke="#000" stroke-width="1.2"/>
<path d="M239 936.9 V940.2 M235.3 938.9 L242.7 938.9 M239 940 L236.7 942.9 M239 940 L241.5 942.9" stroke="#000" stroke-width="1.9" fill="none" stroke-linecap="square"/>
<line x1="406.1" y1="955.5" x2="499" y2="955.5" stroke="#000" stroke-width="1.2"/>
<path d="M457 929.9 V933.2 M453.3 931.9 L460.7 931.9 M457 933 L454.7 935.9 M457 933 L459.5 935.9" stroke="#000" stroke-width="1.9" fill="none" stroke-linecap="square"/>
<line x1="190.4" y1="969.9" x2="296.4" y2="1117.5" stroke="#000" stroke-width="1.1"/>
<line x1="190.4" y1="987.4" x2="296.4" y2="1131.9" stroke="#000" stroke-width="1.1"/>
<line x1="190.4" y1="1008.5" x2="296.4" y2="1143.5" stroke="#000" stroke-width="1.1"/>
<line x1="190.4" y1="997.5" x2="296.4" y2="1202" stroke="#000" stroke-width="1.1"/>
<line x1="190.4" y1="1090.4" x2="296.4" y2="1140.2" stroke="#000" stroke-width="1.1"/>
<circle cx="190.4" cy="970.9" r="6" fill="#000"/>
<circle cx="190.4" cy="988.2" r="6" fill="#000"/>
<circle cx="190.4" cy="999.1" r="6" fill="#000"/>
<circle cx="190.4" cy="1007.7" r="6" fill="#000"/>
<circle cx="190.4" cy="1091" r="6" fill="#000"/>
<circle cx="296.4" cy="1118" r="6" fill="#000"/>
<circle cx="296.4" cy="1132.5" r="6" fill="#000"/>
<circle cx="296.4" cy="1138.5" r="6" fill="#000"/>
<circle cx="296.4" cy="1143.5" r="6" fill="#000"/>
<circle cx="296.4" cy="1199.8" r="6" fill="#000"/>
<line x1="402" y1="966.7" x2="508" y2="1056.1" stroke="#000" stroke-width="1.1"/>
<line x1="402" y1="1007.8" x2="508" y2="1064" stroke="#000" stroke-width="1.1"/>
<line x1="402" y1="1020.9" x2="508" y2="1064.8" stroke="#000" stroke-width="1.1"/>
<line x1="402" y1="1041.7" x2="508" y2="1083.8" stroke="#000" stroke-width="1.1"/>
<line x1="402" y1="1044.7" x2="508" y2="1107.3" stroke="#000" stroke-width="1.1"/>
<rect x="396" y="960" width="11.8" height="11.8" fill="#000"/>
<rect x="396" y="1001.1" width="11.8" height="11.8" fill="#000"/>
<rect x="396" y="1013.9" width="11.8" height="11.8" fill="#000"/>
<rect x="396" y="1034.1" width="11.8" height="11.8" fill="#000"/>
<rect x="396" y="1039.9" width="11.8" height="11.8" fill="#000"/>
<rect x="502.2" y="1051.1" width="11.8" height="11.8" fill="#000"/>
<rect x="502.2" y="1058.6" width="11.8" height="11.8" fill="#000"/>
<rect x="502.2" y="1059.8" width="11.8" height="11.8" fill="#000"/>
<rect x="502.2" y="1077.5" width="11.8" height="11.8" fill="#000"/>
<rect x="502.2" y="1101.4" width="11.8" height="11.8" fill="#000"/>
<line x1="624.5" y1="949.2" x2="624.5" y2="1231.1" stroke="#000" stroke-width="1.3"/>
<line x1="616" y1="1019.5" x2="624.5" y2="1019.5" stroke="#000" stroke-width="1.3"/>
<text x="566.2" y="1025.8" font-size="22.3" font-weight="normal">6000</text>
<line x1="616" y1="1160.5" x2="624.5" y2="1160.5" stroke="#000" stroke-width="1.3"/>
<text x="566.2" y="1166.9" font-size="22.3" font-weight="normal">2000</text>
<line x1="616" y1="1231.5" x2="624.5" y2="1231.5" stroke="#000" stroke-width="1.3"/>
<text x="603.4" y="1237.9" font-size="22.3" font-weight="normal">0</text>
<line x1="623.9" y1="1231.5" x2="1048" y2="1231.5" stroke="#000" stroke-width="1.3"/>
<line x1="677.5" y1="1231.1" x2="677.5" y2="1240" stroke="#000" stroke-width="1.3"/>
<line x1="783.5" y1="1231.1" x2="783.5" y2="1240" stroke="#000" stroke-width="1.3"/>
<line x1="889.5" y1="1231.1" x2="889.5" y2="1240" stroke="#000" stroke-width="1.3"/>
<line x1="994.5" y1="1231.1" x2="994.5" y2="1240" stroke="#000" stroke-width="1.3"/>
<text x="681.6" y="914.7" font-size="23.5" font-weight="normal" textLength="204.1" lengthAdjust="spacing" >CD200r expression</text>
<text x="0" y="0" font-size="23.5" textLength="40.3" lengthAdjust="spacing" transform="translate(554.2 1108.8) rotate(-90)">MFI</text>
<line x1="682.8" y1="990.5" x2="774.7" y2="990.5" stroke="#000" stroke-width="1.2"/>
<path d="M733.3 959.1 V962.4 M729.6 961.1 L737 961.1 M733.3 962.2 L731 965.1 M733.3 962.2 L735.8 965.1" stroke="#000" stroke-width="1.9" fill="none" stroke-linecap="square"/>
<line x1="677.2" y1="1045" x2="783" y2="1007.9" stroke="#000" stroke-width="1.1"/>
<line x1="677.2" y1="1053.2" x2="783" y2="1012.3" stroke="#000" stroke-width="1.1"/>
<line x1="677.2" y1="1131.8" x2="783" y2="1105.7" stroke="#000" stroke-width="1.1"/>
<line x1="677.2" y1="1137.7" x2="783" y2="1124.1" stroke="#000" stroke-width="1.1"/>
<line x1="677.2" y1="1143.3" x2="783" y2="1116.2" stroke="#000" stroke-width="1.1"/>
<circle cx="677.2" cy="1044" r="6" fill="#000"/>
<circle cx="677.2" cy="1054.1" r="6" fill="#000"/>
<circle cx="677.2" cy="1132" r="6" fill="#000"/>
<circle cx="677.2" cy="1137.5" r="6" fill="#000"/>
<circle cx="677.2" cy="1143" r="6" fill="#000"/>
<circle cx="783" cy="1007" r="6" fill="#000"/>
<circle cx="783" cy="1012" r="6" fill="#000"/>
<circle cx="783" cy="1106" r="6" fill="#000"/>
<circle cx="783" cy="1115.5" r="6" fill="#000"/>
<circle cx="783" cy="1124" r="6" fill="#000"/>
<line x1="888.8" y1="1117" x2="994.8" y2="1097" stroke="#000" stroke-width="1.1"/>
<line x1="888.8" y1="1120.5" x2="994.8" y2="1103.5" stroke="#000" stroke-width="1.1"/>
<line x1="888.8" y1="1122" x2="994.8" y2="1108.5" stroke="#000" stroke-width="1.1"/>
<line x1="888.8" y1="1124" x2="994.8" y2="1112.5" stroke="#000" stroke-width="1.1"/>
<line x1="888.8" y1="1137" x2="994.8" y2="1142.8" stroke="#000" stroke-width="1.1"/>
<rect x="882.8" y="1111" width="12" height="12" fill="#000"/>
<rect x="882.8" y="1114.5" width="12" height="12" fill="#000"/>
<rect x="882.8" y="1116" width="12" height="12" fill="#000"/>
<rect x="882.8" y="1118" width="12" height="12" fill="#000"/>
<rect x="882.8" y="1131" width="12" height="12" fill="#000"/>
<rect x="882.8" y="1111" width="12" height="31.7" fill="#000"/>
<rect x="989" y="1091" width="12" height="12" fill="#000"/>
<rect x="989" y="1097.5" width="12" height="12" fill="#000"/>
<rect x="989" y="1102.5" width="12" height="12" fill="#000"/>
<rect x="989" y="1106.5" width="12" height="12" fill="#000"/>
<rect x="989" y="1136.8" width="12" height="12" fill="#000"/>
<line x1="847" y1="973.8" x2="879" y2="973.8" stroke="#000" stroke-width="3.6"/>
<rect x="857" y="968" width="12" height="12.5" fill="#000"/>
<text x="894.6" y="981.8" font-size="23.5" font-weight="normal" textLength="101.3" lengthAdjust="spacing" >PDE3 KO</text>
<line x1="847" y1="1007.2" x2="879" y2="1007.2" stroke="#000" stroke-width="3.6"/>
<circle cx="862.1" cy="1007.2" r="6.3" fill="#000"/>
<text x="895.4" y="1015" font-size="23.5" font-weight="normal" textLength="38.6" lengthAdjust="spacing" >WT</text>
<text x="46.5" y="1277.9" font-size="23.5" font-weight="normal" textLength="34.9" lengthAdjust="spacing" >IgE</text>
<text x="46.8" y="1306" font-size="23.5" font-weight="normal" textLength="122.4" lengthAdjust="spacing" >DNP-7 OVA</text>
<text x="186.7" y="1278.6" font-size="23.5" font-weight="normal" >-</text>
<text x="287.8" y="1277.9" font-size="23.5" font-weight="normal" >+</text>
<text x="185.6" y="1305.8" font-size="23.5" font-weight="normal" >+</text>
<text x="287.8" y="1305.8" font-size="23.5" font-weight="normal" >+</text>
<rect x="181.3" y="1314.5" width="115.7" height="3.2" fill="#000"/>
<text x="205.9" y="1358.6" font-size="23.5" font-weight="normal" textLength="35.3" lengthAdjust="spacing" >WT</text>
<text x="395.6" y="1278.6" font-size="23.5" font-weight="normal" >-</text>
<text x="503.2" y="1277.9" font-size="23.5" font-weight="normal" >+</text>
<text x="394.9" y="1305.8" font-size="23.5" font-weight="normal" >+</text>
<text x="503.2" y="1305.8" font-size="23.5" font-weight="normal" >+</text>
<rect x="391.8" y="1314.5" width="115.7" height="3.2" fill="#000"/>
<text x="416.3" y="1358.6" font-size="23.5" font-weight="normal" textLength="34.6" lengthAdjust="spacing" >KO</text>
<text x="672.5" y="1278.6" font-size="23.5" font-weight="normal" >-</text>
<text x="774" y="1277.9" font-size="23.5" font-weight="normal" >+</text>
<text x="672.4" y="1305.8" font-size="23.5" font-weight="normal" >+</text>
<text x="774" y="1305.8" font-size="23.5" font-weight="normal" >+</text>
<rect x="672.2" y="1314.5" width="115.7" height="3.2" fill="#000"/>
<text x="714.5" y="1358.6" font-size="23.5" font-weight="normal" textLength="35.4" lengthAdjust="spacing" >WT</text>
<text x="880.8" y="1278.6" font-size="23.5" font-weight="normal" >-</text>
<text x="988.4" y="1277.9" font-size="23.5" font-weight="normal" >+</text>
<text x="880.7" y="1305.8" font-size="23.5" font-weight="normal" >+</text>
<text x="988.4" y="1305.8" font-size="23.5" font-weight="normal" >+</text>
<rect x="886" y="1314.5" width="116.3" height="3.2" fill="#000"/>
<text x="925.5" y="1358.6" font-size="23.5" font-weight="normal" textLength="34.7" lengthAdjust="spacing" >KO</text>
<line x1="148.5" y1="1475.5" x2="148.5" y2="1759.5" stroke="#000" stroke-width="1.3"/>
<line x1="140.2" y1="1476.5" x2="148.7" y2="1476.5" stroke="#000" stroke-width="1.3"/>
<text x="90.4" y="1482.8" font-size="22.3" font-weight="normal">3000</text>
<line x1="140.2" y1="1571.5" x2="148.7" y2="1571.5" stroke="#000" stroke-width="1.3"/>
<text x="90.4" y="1578" font-size="22.3" font-weight="normal">2000</text>
<line x1="140.2" y1="1664.5" x2="148.7" y2="1664.5" stroke="#000" stroke-width="1.3"/>
<text x="90.4" y="1671.6" font-size="22.3" font-weight="normal">1000</text>
<line x1="140.2" y1="1759.5" x2="148.7" y2="1759.5" stroke="#000" stroke-width="1.3"/>
<text x="127.6" y="1766.2" font-size="22.3" font-weight="normal">0</text>
<line x1="148" y1="1759.5" x2="572.8" y2="1759.5" stroke="#000" stroke-width="1.3"/>
<path d="M149.9 1426.1 L157 1442.6 L142.2 1442.6 Z M149.7 1430.8 L153 1440.8 L145.1 1440.8 Z" fill="#000" fill-rule="evenodd"/>
<text x="166.4" y="1442.2" font-size="23.5" font-weight="normal" textLength="328.2" lengthAdjust="spacing" >CD107b unactivated - activated</text>
<text x="0" y="0" font-size="23.5" textLength="40.7" lengthAdjust="spacing" transform="translate(78.5 1635.9) rotate(-90)">MFI</text>
<line x1="258" y1="1478.5" x2="450.5" y2="1478.5" stroke="#000" stroke-width="1.2"/>
<path d="M339.1 1459.9 V1463.2 M335.4 1461.9 L342.8 1461.9 M339.1 1463 L336.8 1465.9 M339.1 1463 L341.6 1465.9" stroke="#000" stroke-width="1.9" fill="none" stroke-linecap="square"/>
<circle cx="254.9" cy="1492" r="5.8" fill="#000"/>
<circle cx="237.4" cy="1567.3" r="5.8" fill="#000"/>
<circle cx="271.6" cy="1563" r="5.8" fill="#000"/>
<circle cx="254.9" cy="1577.6" r="5.8" fill="#000"/>
<circle cx="254.9" cy="1694.6" r="5.8" fill="#000"/>
<line x1="184.2" y1="1579.5" x2="324.8" y2="1579.5" stroke="#000" stroke-width="1.2"/>
<line x1="219.4" y1="1546.5" x2="289.6" y2="1546.5" stroke="#000" stroke-width="1.2"/>
<line x1="219.4" y1="1611.5" x2="289.6" y2="1611.5" stroke="#000" stroke-width="1.2"/>
<line x1="254.5" y1="1546.5" x2="254.5" y2="1611.3" stroke="#000" stroke-width="1.2"/>
<text x="238.3" y="1784.8" font-size="23.5" font-weight="normal" textLength="36.2" lengthAdjust="spacing" >WT</text>
<line x1="395.2" y1="1679.5" x2="536.7" y2="1679.5" stroke="#000" stroke-width="1.2"/>
<line x1="431.2" y1="1666.5" x2="502" y2="1666.5" stroke="#000" stroke-width="1.2"/>
<line x1="431.2" y1="1692.5" x2="502" y2="1692.5" stroke="#000" stroke-width="1.2"/>
<line x1="466.5" y1="1666.3" x2="466.5" y2="1692.4" stroke="#000" stroke-width="1.2"/>
<circle cx="466" cy="1637.7" r="5.9" fill="#000"/>
<circle cx="449.3" cy="1668.8" r="5.9" fill="#000"/>
<circle cx="466.2" cy="1683.3" r="5.9" fill="#000"/>
<circle cx="483" cy="1698.7" r="5.9" fill="#000"/>
<circle cx="466" cy="1709.1" r="5.9" fill="#000"/>
<ellipse cx="457.4" cy="1673.2" rx="3.3" ry="5.3" fill="none" stroke="#000" stroke-width="1.1"/>
<path d="M464.8 1682 V1667.8 H473.2 V1682.3" fill="none" stroke="#000" stroke-width="1.2"/>
<line x1="446" y1="1678.5" x2="449" y2="1672" stroke="#000" stroke-width="1"/>
<text x="450" y="1784.3" font-size="23.5" font-weight="normal" textLength="34.5" lengthAdjust="spacing" >KO</text>
<line x1="630.5" y1="1476.2" x2="630.5" y2="1759.5" stroke="#000" stroke-width="1.3"/>
<line x1="621.9" y1="1476.5" x2="630.4" y2="1476.5" stroke="#000" stroke-width="1.3"/>
<text x="572.1" y="1483.5" font-size="22.3" font-weight="normal">1500</text>
<line x1="621.9" y1="1557.5" x2="630.4" y2="1557.5" stroke="#000" stroke-width="1.3"/>
<text x="572.1" y="1564" font-size="22.3" font-weight="normal">1000</text>
<line x1="621.9" y1="1637.5" x2="630.4" y2="1637.5" stroke="#000" stroke-width="1.3"/>
<text x="584.5" y="1644.7" font-size="22.3" font-weight="normal">500</text>
<line x1="621.9" y1="1718.5" x2="630.4" y2="1718.5" stroke="#000" stroke-width="1.3"/>
<text x="609.3" y="1724.9" font-size="22.3" font-weight="normal">0</text>
<line x1="622.1" y1="1759.5" x2="1053.8" y2="1759.5" stroke="#000" stroke-width="1.3"/>
<line x1="630.4" y1="1718.5" x2="1053.4" y2="1718.5" stroke="#000" stroke-width="1.3"/>
<path d="M633.9 1426.1 L641 1442.6 L626.2 1442.6 Z M633.7 1430.8 L637 1440.8 L629.1 1440.8 Z" fill="#000" fill-rule="evenodd"/>
<text x="650.7" y="1442.2" font-size="23.5" font-weight="normal" textLength="323.9" lengthAdjust="spacing" >CD200r unactivated - activated</text>
<text x="0" y="0" font-size="23.5" textLength="40" lengthAdjust="spacing" transform="translate(559.3 1636.7) rotate(-90)">MFI</text>
<circle cx="735.9" cy="1526.3" r="5.9" fill="#000"/>
<circle cx="735.9" cy="1548.7" r="5.9" fill="#000"/>
<circle cx="719.2" cy="1596.3" r="5.9" fill="#000"/>
<circle cx="735.9" cy="1596.8" r="5.9" fill="#000"/>
<circle cx="735.9" cy="1657.5" r="5.9" fill="#000"/>
<line x1="665.2" y1="1584.5" x2="806.9" y2="1584.5" stroke="#000" stroke-width="1.2"/>
<line x1="700.2" y1="1562.5" x2="770.7" y2="1562.5" stroke="#000" stroke-width="1.2"/>
<line x1="700.2" y1="1607.5" x2="770.7" y2="1607.5" stroke="#000" stroke-width="1.2"/>
<line x1="735.5" y1="1562.3" x2="735.5" y2="1607.3" stroke="#000" stroke-width="1.2"/>
<text x="715" y="1785.7" font-size="23.5" font-weight="normal" textLength="36.3" lengthAdjust="spacing" >WT</text>
<circle cx="947.4" cy="1594.7" r="5.9" fill="#000"/>
<circle cx="930.4" cy="1651.6" r="5.9" fill="#000"/>
<circle cx="964.5" cy="1648.1" r="5.9" fill="#000"/>
<circle cx="947.4" cy="1663.9" r="5.9" fill="#000"/>
<circle cx="947.4" cy="1747.4" r="5.9" fill="#000"/>
<line x1="877" y1="1661.5" x2="1018.1" y2="1661.5" stroke="#000" stroke-width="1.2"/>
<line x1="912.1" y1="1636.5" x2="982.8" y2="1636.5" stroke="#000" stroke-width="1.2"/>
<line x1="912.1" y1="1686.5" x2="982.8" y2="1686.5" stroke="#000" stroke-width="1.2"/>
<line x1="947.5" y1="1636.5" x2="947.5" y2="1686.3" stroke="#000" stroke-width="1.2"/>
<text x="927.1" y="1785" font-size="23.5" font-weight="normal" textLength="34.4" lengthAdjust="spacing" >KO</text>
</svg>
</body></html>
